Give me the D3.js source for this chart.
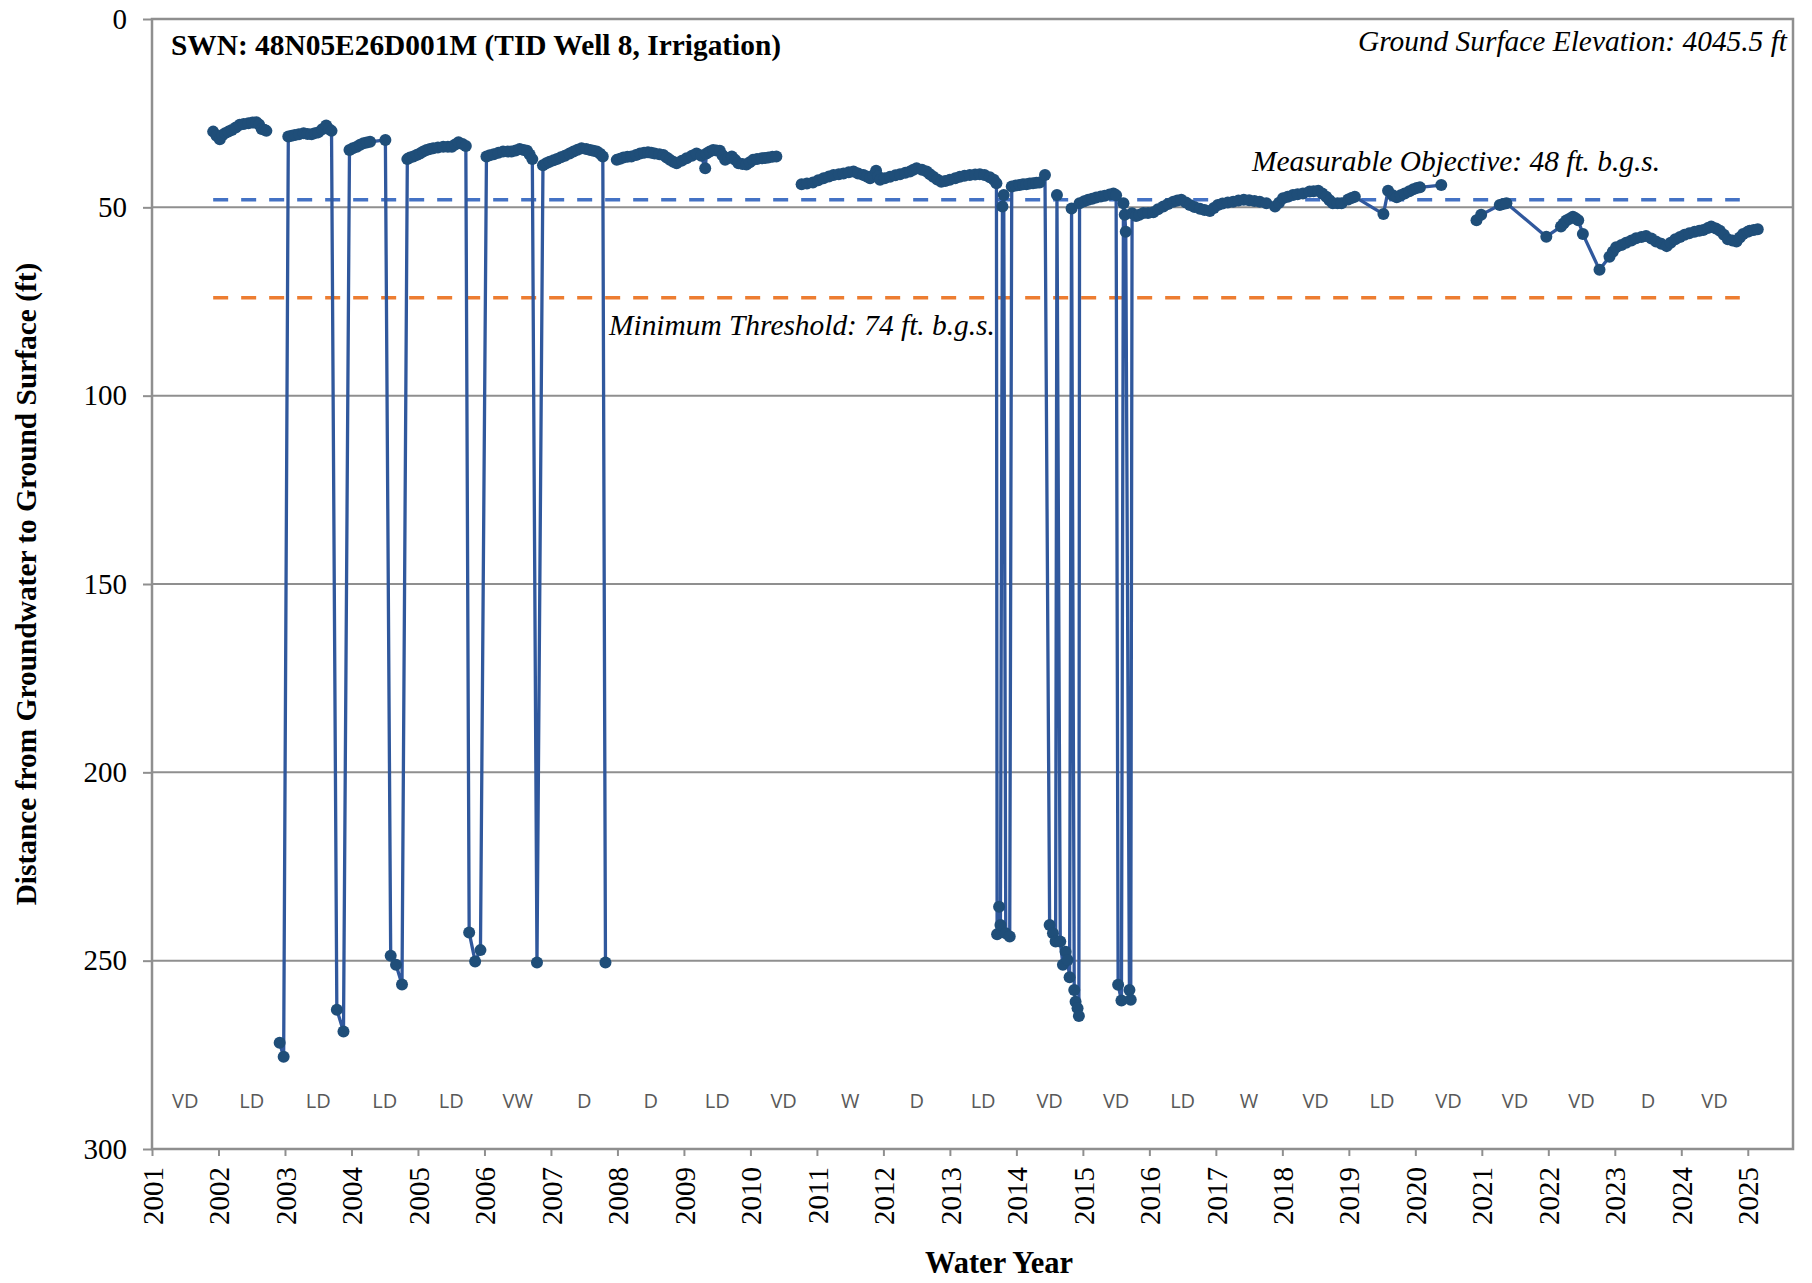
<!DOCTYPE html>
<html>
<head>
<meta charset="utf-8">
<script src="https://cdn.jsdelivr.net/npm/d3@7"></script>
<style>
  html, body { margin: 0; padding: 0; background: #fff; }
  svg { display: block; }
</style>
</head>
<body>
<div id="chart"></div>
<script>
// water year (decimal) of each measurement; null depth = break in the record
const obsYear = [
  2001.92,2001.97,2002.02,2002.06,2002.10,2002.15,2002.20,2002.26,2002.32,2002.38,2002.45,2002.51,2002.57,2002.61,2002.65,2002.69,2002.72,
  2002.80,
  2002.92,2002.98,
  2003.05,2003.10,2003.15,2003.21,2003.28,2003.34,2003.40,2003.45,2003.50,2003.56,2003.62,2003.66,2003.70,
  2003.78,2003.88,
  2003.97,2004.02,2004.08,2004.13,2004.18,2004.23,2004.28,2004.51,
  2004.59,2004.67,2004.76,
  2004.84,2004.88,2004.93,2004.98,2005.03,2005.08,2005.13,2005.18,2005.23,2005.30,2005.38,2005.45,2005.51,2005.56,2005.61,2005.67,2005.72,
  2005.77,2005.86,2005.94,
  2006.03,2006.08,2006.14,2006.21,2006.28,2006.35,2006.41,2006.47,2006.53,2006.59,2006.64,2006.68,2006.72,
  2006.79,
  2006.88,2006.93,2006.98,2007.04,2007.09,2007.15,2007.21,2007.28,2007.34,2007.40,2007.46,2007.53,2007.59,2007.64,2007.69,2007.74,2007.78,
  2007.82,
  2007.90,
  2007.99,2008.04,2008.09,2008.15,2008.21,2008.28,2008.34,2008.40,2008.46,2008.51,2008.56,2008.63,2008.69,2008.74,2008.79,2008.84,2008.89,
  2008.97,2009.04,2009.12,2009.19,2009.26,2009.32,2009.34,2009.39,2009.44,2009.49,2009.54,2009.58,2009.62,2009.67,2009.72,2009.77,2009.82,
  2009.88,2009.94,2009.99,2010.04,2010.10,2010.17,2010.22,2010.27,2010.33,2010.39,
  2010.55,
  2010.77,2010.85,2010.94,2011.02,2011.10,2011.18,2011.25,2011.33,2011.40,2011.48,2011.55,2011.62,2011.70,2011.75,2011.80,2011.85,2011.89,
  2011.92,2011.95,2012.02,2012.10,2012.18,2012.25,2012.33,2012.40,2012.45,2012.50,2012.58,2012.65,2012.70,2012.75,2012.81,2012.87,2012.93,
  2013.00,2013.08,2013.15,2013.22,2013.30,2013.38,2013.45,2013.52,2013.60,2013.66,2013.70,
  2013.71,2013.74,2013.76,2013.79,2013.81,2013.84,2013.90,2013.93,
  2013.99,2014.05,2014.10,2014.15,2014.20,2014.25,2014.30,2014.35,2014.43,
  2014.50,2014.55,2014.59,2014.61,2014.66,2014.70,2014.74,2014.77,2014.80,2014.83,2014.87,2014.89,2014.92,2014.94,
  2014.95,2015.02,2015.08,2015.14,2015.20,2015.27,2015.33,2015.40,2015.46,2015.50,
  2015.53,2015.58,2015.61,2015.63,2015.645,2015.70,2015.72,
  2015.74,2015.80,2015.85,2015.91,2015.98,2016.06,2016.13,2016.21,2016.28,2016.36,2016.42,2016.48,2016.55,2016.61,2016.68,2016.76,2016.83,
  2016.91,2016.97,2017.03,2017.10,2017.18,2017.26,2017.34,2017.42,2017.50,2017.58,2017.66,2017.76,2017.89,2017.95,2018.01,2018.08,2018.16,
  2018.23,2018.31,2018.41,2018.47,2018.54,2018.60,2018.66,2018.71,2018.76,2018.83,2018.89,2018.99,2019.04,2019.09,
  2019.52,2019.59,2019.66,2019.72,2019.78,2019.84,2019.91,2019.97,2020.02,2020.07,2020.39,
  2020.60,
  2020.92,2020.99,2021.27,2021.32,2021.37,2021.97,2022.19,2022.23,2022.27,2022.32,2022.37,2022.41,2022.45,2022.52,
  2022.77,2022.92,2022.97,2023.02,2023.10,2023.17,2023.25,2023.32,2023.40,2023.47,2023.55,2023.62,2023.70,2023.78,2023.84,2023.91,
  2023.98,2024.05,2024.12,2024.20,2024.27,2024.33,2024.40,2024.45,2024.52,2024.58,2024.64,2024.70,2024.77,2024.83,2024.88,2024.93,
  2025.00,2025.03,2025.09,2025.15
];

// depth to groundwater below ground surface (ft)
const obsDepth = [
  29.9,31.0,31.9,30.8,30.3,29.9,29.5,28.8,28.1,27.9,27.7,27.5,27.4,28.0,29.2,29.4,29.7,
  null,
  271.8,275.5,
  31.2,31.0,30.8,30.6,30.3,30.5,30.6,30.3,30.1,29.3,28.3,29.2,29.7,
  263.0,268.8,
  34.8,34.3,33.9,33.4,33.0,32.8,32.6,32.1,
  248.7,251.1,256.3,
  37.2,36.8,36.5,36.1,35.7,35.2,34.8,34.5,34.3,34.1,33.9,33.9,33.9,33.3,32.7,33.2,33.7,
  242.5,250.2,247.2,
  36.5,36.2,35.9,35.5,35.2,35.2,35.2,34.9,34.5,34.8,35.0,36.0,37.2,
  250.5,
  38.8,38.3,37.9,37.5,37.2,36.7,36.3,35.7,35.2,34.7,34.3,34.5,34.8,35.0,35.2,35.8,36.5,
  250.5,
  null,
  37.4,37.1,36.8,36.6,36.5,36.1,35.7,35.5,35.4,35.5,35.7,35.9,36.1,36.8,37.4,37.9,38.3,
  37.6,37.0,36.3,35.7,36.3,39.6,35.7,35.2,34.8,34.9,35.0,36.2,37.4,36.9,36.5,37.4,38.3,
  38.5,38.6,38.0,37.4,37.2,37.0,36.9,36.8,36.6,36.5,
  null,
  43.9,43.7,43.4,42.8,42.3,41.8,41.4,41.2,41.0,40.7,40.5,41.0,41.4,41.8,42.3,41.5,40.3,
  41.8,42.7,42.3,41.9,41.5,41.2,40.8,40.5,40.0,39.6,40.0,40.5,41.2,41.9,42.6,43.2,43.0,
  42.7,42.3,41.9,41.6,41.4,41.3,41.2,41.4,42.0,42.7,43.6,
  243.0,235.7,240.5,49.8,46.7,242.7,243.6,44.5,
  44.2,44.1,43.9,43.9,43.7,43.6,43.5,43.4,41.4,
  240.5,242.7,244.9,46.7,244.9,251.1,247.6,249.8,254.4,50.3,257.8,260.9,262.6,264.7,
  48.9,48.4,48.0,47.7,47.4,47.1,46.9,46.6,46.3,46.8,
  256.4,260.6,48.9,52.0,56.5,257.8,260.4,
  51.6,52.3,52.0,51.5,51.5,51.3,50.5,49.8,49.1,48.5,48.2,48.0,48.7,49.4,49.9,50.4,50.7,
  51.0,50.2,49.4,49.0,48.7,48.5,48.2,48.0,48.1,48.3,48.5,48.9,49.8,48.8,47.6,47.2,46.7,
  46.5,46.3,45.8,45.7,45.6,46.3,47.2,48.1,48.9,48.9,48.9,47.9,47.5,47.2,
  51.8,45.6,46.8,47.3,46.8,46.3,45.7,45.2,44.9,44.7,44.1,
  null,
  53.4,52.0,49.4,49.1,48.9,57.8,55.1,54.3,53.5,53.0,52.5,52.9,53.4,57.1,
  66.6,63.1,61.8,60.6,60.0,59.4,58.8,58.2,57.9,57.6,58.3,59.1,59.7,60.3,59.4,58.5,
  57.9,57.3,56.9,56.5,56.2,56.0,55.5,55.1,55.6,56.2,57.3,58.5,58.8,59.1,58.0,57.1,
  56.5,56.2,56.0,55.8
];

// water year type per year (labelled mid-year)
const typeYears = [2001,2002,2003,2004,2005,2006,2007,2008,2009,2010,2011,2012,2013,2014,2015,2016,2017,2018,2019,2020,2021,2022,2023,2024];
const typeLabels = ['VD','LD','LD','LD','LD','VW','D','D','LD','VD','W','D','LD','VD','VD','LD','W','VD','LD','VD','VD','VD','D','VD'];

const xTickYears = d3.range(2001, 2026);
const yTickValues = [0, 50, 100, 150, 200, 250, 300];

const measurableObjective = 48;
const minimumThreshold = 74;
const thresholdSpan = [2001.92, 2024.88];

const W = 1812, H = 1283;
const plot = {left: 152, right: 1793, top: 19, bottom: 1149};

const svg = d3.select('#chart').append('svg').attr('width', W).attr('height', H)
  .style('background', '#fff');

const x = d3.scaleLinear().domain([2001, 2025.68]).range([plot.left, plot.right]);
const y = d3.scaleLinear().domain([0, 300]).range([plot.top, plot.bottom]);

const serif = '"Liberation Serif", "Times New Roman", serif';
const gridColor = '#8f8f8f';

// horizontal gridlines
svg.append('g').selectAll('line').data(yTickValues.filter(v => v > 0 && v < 300)).join('line')
  .attr('x1', plot.left).attr('x2', plot.right)
  .attr('y1', d => y(d)).attr('y2', d => y(d))
  .attr('stroke', gridColor).attr('stroke-width', 2);

// plot frame
svg.append('rect')
  .attr('x', plot.left).attr('y', plot.top)
  .attr('width', plot.right - plot.left).attr('height', plot.bottom - plot.top)
  .attr('fill', 'none').attr('stroke', gridColor).attr('stroke-width', 2.5);

// y axis
const yAxis = svg.append('g').attr('transform', `translate(${plot.left},0)`)
  .call(d3.axisLeft(y).tickValues(yTickValues).tickSize(9).tickPadding(16).tickFormat(d3.format('d')));
yAxis.select('.domain').remove();
yAxis.selectAll('line').attr('stroke', gridColor).attr('stroke-width', 2);
yAxis.selectAll('text').style('font-family', serif).style('font-size', '29px').attr('fill', '#000');

// x axis
const xAxis = svg.append('g').attr('transform', `translate(0,${plot.bottom})`)
  .call(d3.axisBottom(x).tickValues(xTickYears).tickSize(7).tickFormat(d3.format('d')));
xAxis.select('.domain').remove();
xAxis.selectAll('line').attr('stroke', gridColor).attr('stroke-width', 2);
xAxis.selectAll('text')
  .attr('transform', 'rotate(-90)')
  .attr('x', -18).attr('y', 0).attr('dy', '0.35em')
  .attr('text-anchor', 'end')
  .style('font-family', serif).style('font-size', '29px').attr('fill', '#000');

// threshold lines
svg.append('line')
  .attr('x1', x(thresholdSpan[0])).attr('x2', x(thresholdSpan[1]))
  .attr('y1', y(measurableObjective)).attr('y2', y(measurableObjective))
  .attr('stroke', '#4472C4').attr('stroke-width', 3.5).attr('stroke-dasharray', '15,13');
svg.append('line')
  .attr('x1', x(thresholdSpan[0])).attr('x2', x(thresholdSpan[1]))
  .attr('y1', y(minimumThreshold)).attr('y2', y(minimumThreshold))
  .attr('stroke', '#ED7D31').attr('stroke-width', 3.5).attr('stroke-dasharray', '15,13');

// water year types
svg.append('g').selectAll('text').data(typeYears).join('text')
  .attr('x', d => x(d + 0.5)).attr('y', 1108)
  .attr('text-anchor', 'middle')
  .style('font-family', '"Open Sans", sans-serif').style('font-size', '20px')
  .attr('fill', '#595959')
  .text((d, i) => typeLabels[i]);

// record
const rows = obsYear.map((yr, i) => ({yr, depth: obsDepth[i]}));
const line = d3.line().defined(d => d.depth != null).x(d => x(d.yr)).y(d => y(d.depth));
svg.append('path').datum(rows)
  .attr('d', line).attr('fill', 'none')
  .attr('stroke', '#30589D').attr('stroke-width', 3.3).attr('stroke-linejoin', 'round');
svg.append('g').selectAll('circle').data(rows.filter(d => d.depth != null)).join('circle')
  .attr('cx', d => x(d.yr)).attr('cy', d => y(d.depth)).attr('r', 6)
  .attr('fill', '#1F4E79');

// annotations
svg.append('text').attr('x', 171).attr('y', 55)
  .style('font-family', serif).style('font-size', '29.4px').style('font-weight', 'bold')
  .text('SWN: 48N05E26D001M (TID Well 8, Irrigation)');
svg.append('text').attr('x', 1787).attr('y', 51).attr('text-anchor', 'end')
  .style('font-family', serif).style('font-size', '29.4px').style('font-style', 'italic')
  .text('Ground Surface Elevation: 4045.5 ft');
svg.append('text').attr('x', 1252).attr('y', 171)
  .style('font-family', serif).style('font-size', '29.4px').style('font-style', 'italic')
  .text('Measurable Objective: 48 ft. b.g.s.');
svg.append('text').attr('x', 609).attr('y', 335)
  .style('font-family', serif).style('font-size', '29.4px').style('font-style', 'italic')
  .text('Minimum Threshold: 74 ft. b.g.s.');

// axis titles
svg.append('text')
  .attr('transform', `translate(36,${(plot.top + plot.bottom) / 2}) rotate(-90)`)
  .attr('text-anchor', 'middle')
  .style('font-family', serif).style('font-size', '29.4px').style('font-weight', 'bold')
  .text('Distance from Groundwater to Ground Surface (ft)');
svg.append('text').attr('x', 999).attr('y', 1273).attr('text-anchor', 'middle')
  .style('font-family', serif).style('font-size', '30.5px').style('font-weight', 'bold')
  .text('Water Year');
</script>
</body>
</html>
